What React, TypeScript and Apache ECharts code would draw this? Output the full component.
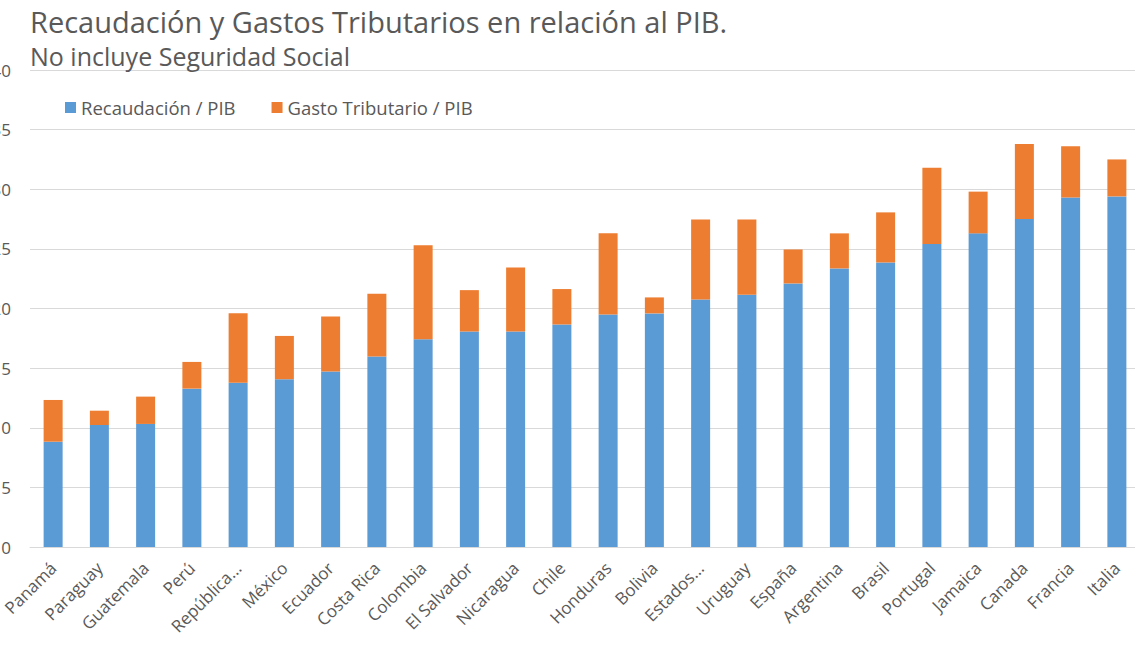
import React, { useEffect, useRef } from "react";
import * as echarts from "echarts";

const categories = [
  "Panamá", "Paraguay", "Guatemala", "Perú", "República...", "México", "Ecuador",
  "Costa Rica", "Colombia", "El Salvador", "Nicaragua", "Chile", "Honduras", "Bolivia",
  "Estados...", "Uruguay", "España", "Argentina", "Brasil", "Portugal", "Jamaica",
  "Canada", "Francia", "Italia",
];

const recaudacion = [
  8.83, 10.23, 10.32, 13.28, 13.78, 14.07, 14.72,
  15.98, 17.43, 18.07, 18.07, 18.66, 19.5, 19.59,
  20.76, 21.15, 22.1, 23.36, 23.86, 25.4, 26.3,
  27.5, 29.3, 29.4,
];

const totalTopes = [
  12.33, 11.43, 12.61, 15.52, 19.6, 17.7, 19.33,
  21.23, 25.31, 21.54, 23.44, 21.63, 26.3, 20.93,
  27.47, 27.47, 24.95, 26.3, 28.06, 31.8, 29.8,
  33.8, 33.6, 32.5,
];

const gastoTributario = totalTopes.map((t, i) => +(t - recaudacion[i]).toFixed(2));

const yTicks = [0, 5, 10, 15, 20, 25, 30, 35, 40];

const TITLE = "Recaudación y Gastos Tributarios en relación al PIB.";
const SUBTITLE = "No incluye Seguridad Social";
const SERIES_NAMES = ["Recaudación / PIB", "Gasto Tributario / PIB"];

const FONT = "'Open Sans', 'Noto Sans', sans-serif";
const TEXT_COLOR = "#595959";
const OFFSET = 40;

export default function App() {
  const ref = useRef<HTMLDivElement>(null);

  useEffect(() => {
    if (!ref.current) return;
    const chart = echarts.init(ref.current, undefined, { renderer: "svg" });
    chart.setOption({
      animation: false,
      backgroundColor: "#ffffff",
      textStyle: { fontFamily: FONT },
      title: [
        {
          text: TITLE,
          left: 30 + OFFSET,
          top: 7,
          padding: 0,
          textStyle: { fontFamily: FONT, fontSize: 29, fontWeight: "normal", color: TEXT_COLOR },
        },
        {
          text: SUBTITLE,
          left: 30 + OFFSET,
          top: 43,
          padding: 0,
          textStyle: { fontFamily: FONT, fontSize: 25, fontWeight: "normal", color: TEXT_COLOR },
        },
      ],
      legend: {
        left: 65 + OFFSET,
        top: 98,
        padding: 0,
        itemWidth: 11,
        itemHeight: 11,
        itemGap: 36,
        icon: "rect",
        textStyle: { fontFamily: FONT, fontSize: 18.5, color: TEXT_COLOR },
        data: SERIES_NAMES,
      },
      grid: { left: 70, right: 10, top: 70, bottom: 123, containLabel: false },
      xAxis: {
        type: "category",
        data: categories,
        axisTick: { show: false },
        axisLine: { lineStyle: { color: "#D9D9D9", width: 1 } },
        axisLabel: {
          rotate: 45,
          interval: 0,
          margin: 18,
          fontFamily: FONT,
          fontSize: 17,
          color: TEXT_COLOR,
        },
      },
      yAxis: {
        type: "value",
        min: yTicks[0],
        max: yTicks[yTicks.length - 1],
        interval: 5,
        axisLine: { show: false },
        axisTick: { show: false },
        splitLine: { lineStyle: { color: "#D9D9D9", width: 1 } },
        axisLabel: { margin: 19, fontFamily: FONT, fontSize: 17, color: TEXT_COLOR },
      },
      series: [
        {
          name: SERIES_NAMES[0],
          type: "bar",
          stack: "total",
          barWidth: 19,
          data: recaudacion,
          itemStyle: { color: "#5B9BD5" },
        },
        {
          name: SERIES_NAMES[1],
          type: "bar",
          stack: "total",
          barWidth: 19,
          data: gastoTributario,
          itemStyle: { color: "#ED7D31" },
        },
      ],
    });
    return () => chart.dispose();
  }, []);

  return (
    <div
      style={{
        position: "fixed",
        left: 0,
        top: 0,
        width: 1135,
        height: 670,
        overflow: "hidden",
        background: "#ffffff",
      }}
    >
      <div
        ref={ref}
        style={{ position: "absolute", left: -OFFSET, top: 0, width: 1190, height: 670 }}
      />
    </div>
  );
}
